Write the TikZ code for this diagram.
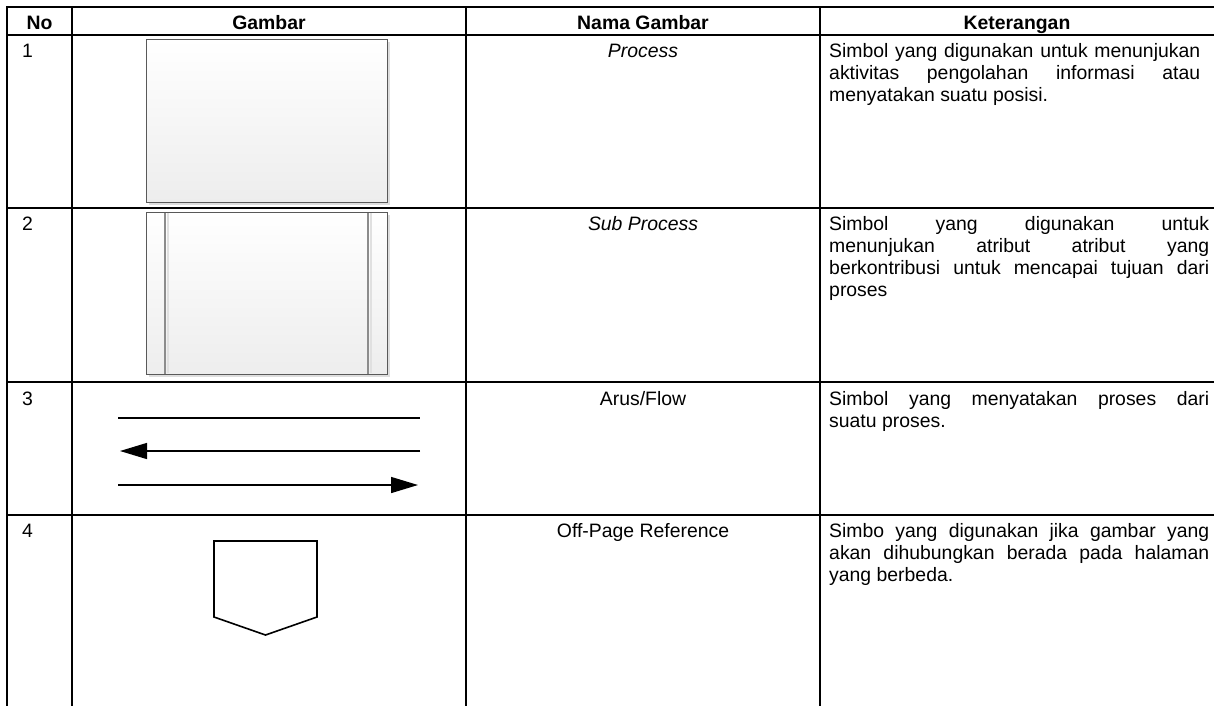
\documentclass[tikz,border=0pt]{standalone}
\usepackage{fontspec}
\setmainfont{Liberation Sans}
\usetikzlibrary{arrows.meta}
\newlength\cellw
\newcommand\jl[1]{\makebox[\cellw][s]{#1}}
\begin{document}
\begin{tikzpicture}[x=1pt,y=-1pt,
  grid/.style={line width=2pt, line cap=rect},
  txt/.style={inner sep=0pt, font=\fontsize{19.4}{22}\selectfont},
  hdr/.style={inner sep=0pt, font=\fontsize{19.4}{22}\selectfont\bfseries, anchor=base},
  num/.style={txt, anchor=base west},
  nm/.style={txt, anchor=base},
  desc/.style={txt, anchor=base west},
  flow/.style={line width=1.4pt},
  tip/.style={-{Triangle[length=27pt,width=16pt]}},
  boxshadow/.style={fill=black!13},
  boxface/.style={top color=white, bottom color=black!7},
  boxedge/.style={draw=black!65, line width=1pt},
  offpage/.style={line width=1.6pt, line join=miter}
]
\useasboundingbox (0,0) rectangle (1214,705);
\fill[white] (0,0) rectangle (1214,705);

% table grid
\foreach \y in {7,35,208,382,515} \draw[grid] (7,\y) -- (1214,\y);
\foreach \x in {7,72,466,820} \draw[grid] (\x,7) -- (\x,705);

% header
\node[hdr] (h1) at (39.5,29) {No};
\node[hdr] (h2) at (269,29) {Gambar};
\node[hdr] (h3) at (643,29) {Nama Gambar};
\node[hdr] (h4) at (1017,29) {Keterangan};

% numbers
\node[num] (n1) at (22,57) {1};
\node[num] (n2) at (22,230) {2};
\node[num] (n3) at (22,405) {3};
\node[num] (n4) at (22,537) {4};

% names
\node[nm] (m1) at (643,57) {\itshape Process};
\node[nm] (m2) at (643,230) {\itshape Sub Process};
\node[nm] (m3) at (643,405) {Arus/Flow};
\node[nm] (m4) at (643,537) {Off-Page Reference};

% descriptions
\node[desc] (d1) at (829,57) {\setlength\cellw{371pt}\parbox[t]{\cellw}{\jl{Simbol yang digunakan untuk menunjukan}\\\jl{aktivitas pengolahan informasi atau}\\menyatakan suatu posisi.}};
\node[desc] (d2) at (829,230) {\setlength\cellw{380pt}\parbox[t]{\cellw}{\jl{Simbol yang digunakan untuk}\\\jl{menunjukan atribut atribut yang}\\\jl{berkontribusi untuk mencapai tujuan dari}\\proses}};
\node[desc] (d3) at (829,405) {\setlength\cellw{380pt}\parbox[t]{\cellw}{\jl{Simbol yang menyatakan proses dari}\\suatu proses.}};
\node[desc] (d4) at (829,537) {\setlength\cellw{380pt}\parbox[t]{\cellw}{\jl{Simbo yang digunakan jika gambar yang}\\\jl{akan dihubungkan berada pada halaman}\\yang berbeda.}};

% process symbol
\fill[boxshadow] (149,42) rectangle (390,205);
\shade[boxface] (146,39) rectangle (387,202);
\draw[boxedge] (146,39) rectangle (387,202);

% sub process symbol
\fill[boxshadow] (149,215) rectangle (390,377);
\shade[boxface] (146,212) rectangle (387,374);
\draw[black!12, line width=2pt] (168,213) -- (168,373);
\draw[black!12, line width=2pt] (371,213) -- (371,373);
\draw[black!45, line width=1.3pt] (165,212) -- (165,374);
\draw[black!45, line width=1.3pt] (368,212) -- (368,374);
\draw[boxedge] (146,212) rectangle (387,374);

% flow arrows
\coordinate (f1s) at (118,418);
\coordinate (f1e) at (420,418);
\coordinate (f2s) at (420,451);
\coordinate (f2e) at (120,451);
\coordinate (f3s) at (118,485);
\coordinate (f3e) at (418,485);
\draw[flow] (f1s) -- (f1e);
\draw[flow, tip] (f2s) -- (f2e);
\draw[flow, tip] (f3s) -- (f3e);

% off-page reference
\draw[offpage] (214,541) -- (317,541) -- (317,617) -- (265.5,635) -- (214,617) -- cycle;
\end{tikzpicture}
\end{document}
